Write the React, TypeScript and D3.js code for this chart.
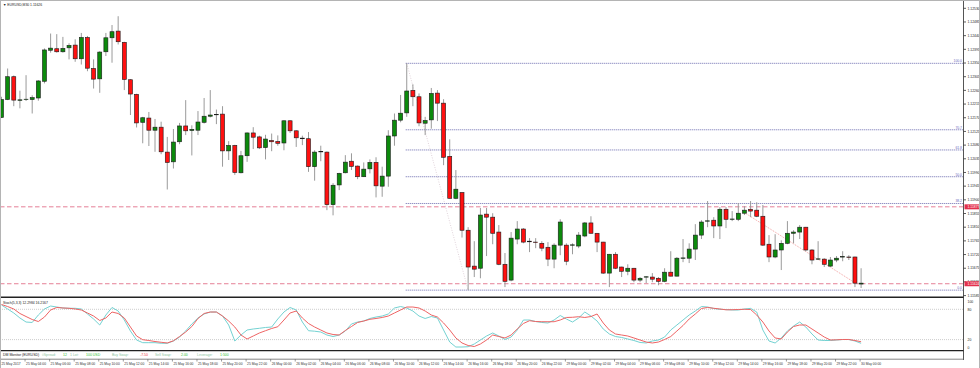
import React, { useEffect, useRef } from "react";
import * as d3 from "d3";

// EURUSD M30 candles: [open, high, low, close]
const candles: [number, number, number, number][] = [
  [1.12171, 1.12239, 1.12169, 1.1223], [1.1223, 1.12332, 1.12228, 1.12305], [1.12305, 1.12309, 1.12208, 1.12228],
  [1.12227, 1.12259, 1.12201, 1.12229], [1.1223, 1.1231, 1.12225, 1.12231], [1.1223, 1.12244, 1.12184, 1.12236],
  [1.12235, 1.12294, 1.12226, 1.12291], [1.1229, 1.12398, 1.12283, 1.12393], [1.12392, 1.12447, 1.12384, 1.12399],
  [1.12397, 1.12445, 1.12384, 1.12387], [1.12387, 1.12436, 1.12384, 1.12398], [1.124, 1.12415, 1.12362, 1.12408],
  [1.12409, 1.12428, 1.12354, 1.12364], [1.12364, 1.12449, 1.12345, 1.12434], [1.12434, 1.12439, 1.12323, 1.12333],
  [1.12332, 1.12362, 1.12266, 1.12297], [1.12298, 1.12389, 1.12252, 1.12386], [1.12387, 1.12449, 1.12373, 1.12433],
  [1.12433, 1.12475, 1.12351, 1.12453], [1.12455, 1.12504, 1.12411, 1.1242], [1.12418, 1.1242, 1.12261, 1.12296],
  [1.12295, 1.12297, 1.12179, 1.12248], [1.12247, 1.12249, 1.12138, 1.12153], [1.12155, 1.12173, 1.12086, 1.1217],
  [1.12169, 1.12189, 1.12077, 1.12129], [1.12129, 1.12166, 1.12058, 1.12139], [1.12139, 1.12157, 1.1205, 1.12058],
  [1.12057, 1.12107, 1.11934, 1.12023], [1.12025, 1.12133, 1.12003, 1.1209], [1.12091, 1.12153, 1.12083, 1.12143],
  [1.12143, 1.12228, 1.12113, 1.12127], [1.12128, 1.12145, 1.12046, 1.12132], [1.12129, 1.12192, 1.12113, 1.12156],
  [1.12155, 1.12235, 1.12151, 1.12175], [1.12175, 1.12261, 1.12171, 1.12179], [1.1218, 1.12197, 1.12149, 1.12181],
  [1.12182, 1.12208, 1.12009, 1.12061], [1.12061, 1.12093, 1.12031, 1.12079], [1.12079, 1.12081, 1.11982, 1.1199],
  [1.11989, 1.12061, 1.11987, 1.12045], [1.12045, 1.12122, 1.12025, 1.1212], [1.1212, 1.12139, 1.12067, 1.12106],
  [1.12107, 1.12111, 1.12067, 1.12071], [1.12072, 1.12114, 1.12033, 1.121], [1.12095, 1.12118, 1.1206, 1.12091],
  [1.12092, 1.12112, 1.12078, 1.12086], [1.12087, 1.12162, 1.12063, 1.1216], [1.1216, 1.12162, 1.1212, 1.12127],
  [1.12127, 1.12129, 1.12074, 1.12104], [1.12103, 1.12111, 1.1208, 1.12101], [1.12101, 1.12123, 1.11992, 1.12009],
  [1.12009, 1.12063, 1.11963, 1.12057], [1.12058, 1.12078, 1.12027, 1.12059], [1.12057, 1.12059, 1.11866, 1.11884],
  [1.11884, 1.11955, 1.11849, 1.11948], [1.11949, 1.11989, 1.11932, 1.11987], [1.11989, 1.12047, 1.11987, 1.12024],
  [1.12027, 1.12053, 1.11998, 1.1201], [1.12011, 1.12013, 1.11968, 1.11976], [1.11976, 1.12023, 1.11975, 1.12001],
  [1.12002, 1.12033, 1.11987, 1.12023], [1.12023, 1.1204, 1.11908, 1.11946], [1.11945, 1.12009, 1.1191, 1.11978],
  [1.11978, 1.12129, 1.11943, 1.1211], [1.1211, 1.12184, 1.12078, 1.12162], [1.12162, 1.12245, 1.12155, 1.12185],
  [1.12186, 1.12349, 1.12173, 1.12258], [1.1226, 1.1228, 1.12208, 1.12239], [1.12239, 1.1225, 1.12142, 1.12153],
  [1.12152, 1.12173, 1.12113, 1.12161], [1.12163, 1.12268, 1.12134, 1.1225], [1.12251, 1.12261, 1.12159, 1.12218],
  [1.12218, 1.12231, 1.12014, 1.1204], [1.12043, 1.12099, 1.11904, 1.11905], [1.11905, 1.11998, 1.11902, 1.11935],
  [1.11924, 1.11925, 1.11776, 1.118], [1.118, 1.1181, 1.11603, 1.11679], [1.11682, 1.11764, 1.11646, 1.11672],
  [1.11675, 1.11873, 1.11642, 1.1185], [1.11853, 1.11873, 1.11715, 1.11843], [1.11843, 1.11856, 1.11754, 1.1179],
  [1.11794, 1.11817, 1.11685, 1.11688], [1.11688, 1.11725, 1.11613, 1.11632], [1.11636, 1.11794, 1.11632, 1.11774],
  [1.11771, 1.1183, 1.11754, 1.11804], [1.11804, 1.11807, 1.11757, 1.11761], [1.11764, 1.11774, 1.11728, 1.11762],
  [1.11761, 1.11774, 1.11741, 1.1176], [1.11757, 1.11764, 1.11731, 1.11741], [1.11744, 1.11761, 1.11682, 1.11705],
  [1.11705, 1.11757, 1.11675, 1.11751], [1.11751, 1.11836, 1.11718, 1.11827], [1.11751, 1.11757, 1.11685, 1.11698],
  [1.11751, 1.11757, 1.11721, 1.11752], [1.11748, 1.11794, 1.11741, 1.11784], [1.11781, 1.11827, 1.11777, 1.11824],
  [1.11824, 1.11846, 1.11789, 1.1179], [1.1179, 1.11791, 1.11728, 1.11761], [1.11761, 1.11762, 1.11656, 1.11659],
  [1.11659, 1.11722, 1.11613, 1.11721], [1.11721, 1.11728, 1.11672, 1.11675], [1.11679, 1.1168, 1.11646, 1.11665],
  [1.11665, 1.11688, 1.11652, 1.11675], [1.11675, 1.11676, 1.11629, 1.11636], [1.11636, 1.11646, 1.11629, 1.11642],
  [1.11646, 1.11649, 1.11626, 1.11647], [1.11646, 1.11659, 1.11629, 1.11639], [1.11642, 1.11646, 1.11619, 1.11632],
  [1.11632, 1.11675, 1.11629, 1.11662], [1.11662, 1.11731, 1.11648, 1.11649], [1.11649, 1.11712, 1.11648, 1.11708],
  [1.11708, 1.11771, 1.11695, 1.11709], [1.11708, 1.11757, 1.11692, 1.11738], [1.11738, 1.1182, 1.11702, 1.11784],
  [1.11784, 1.11833, 1.11771, 1.11827], [1.1183, 1.11896, 1.1181, 1.11831], [1.11833, 1.11843, 1.11774, 1.11814],
  [1.11814, 1.11876, 1.11771, 1.11869], [1.11869, 1.11876, 1.11807, 1.11836], [1.11836, 1.11863, 1.1183, 1.11837],
  [1.11836, 1.11889, 1.1183, 1.11856], [1.11856, 1.11879, 1.1185, 1.11866], [1.11869, 1.11896, 1.11843, 1.11863],
  [1.11866, 1.11892, 1.11843, 1.11846], [1.11846, 1.11883, 1.11748, 1.11751], [1.11754, 1.11784, 1.11695, 1.11712],
  [1.11712, 1.11787, 1.11708, 1.11735], [1.11735, 1.11767, 1.11669, 1.11757], [1.11757, 1.1183, 1.11754, 1.1179],
  [1.1179, 1.118, 1.11757, 1.11794], [1.11794, 1.11817, 1.11771, 1.1181], [1.1181, 1.11811, 1.11731, 1.11735],
  [1.11735, 1.11738, 1.11688, 1.11702], [1.11705, 1.11764, 1.11702, 1.11706], [1.11705, 1.11708, 1.11679, 1.11688],
  [1.11682, 1.11712, 1.11679, 1.11702], [1.11702, 1.11715, 1.11695, 1.11708], [1.11712, 1.11731, 1.11698, 1.11713],
  [1.11712, 1.11718, 1.11702, 1.11711], [1.11712, 1.11713, 1.11613, 1.11626], [1.11623, 1.11675, 1.1161, 1.11626],
];

// Stochastic(5,3,3) main (%K) and signal (%D)
const stochMain = [
  88.5, 80.6, 72.7, 62.8, 54.8, 53.9, 68.7, 80.6, 86.5, 84.5, 82.6, 82, 82, 80.6, 70.7, 60.8, 48.9, 68.7, 83.6, 76.6,
  58.8, 37, 19.2, 13.9, 13.9, 13.9, 12.7, 12.7, 17.2, 25.1, 37, 50.9, 62.8, 70.7, 74.6, 74.6, 66.7, 48.9, 17.2, 29.1,
  39, 41, 42.4, 44, 44.9, 60.8, 74.6, 83.6, 78.6, 54.8, 37.6, 36.6, 35, 29.1, 26.1, 29.1, 37, 50.9, 54.8, 56.8,
  61.8, 64.7, 66.7, 70.7, 82.6, 85.5, 82.6, 76.6, 66.7, 61.8, 65.7, 62.8, 39, 15.2, 5.3, 5.3, 5.9, 11.3, 19.2, 27.1,
  33.1, 27.1, 20.2, 25.1, 39, 58.8, 58.8, 55.8, 53.9, 52.9, 58.8, 67.7, 60.8, 54.8, 62.8, 74.6, 66.7, 56.8, 41, 31.1,
  26.1, 24.2, 21.2, 18.2, 14.3, 13.3, 17.2, 19.2, 25.1, 39, 48.9, 58.8, 68.7, 76.6, 85.5, 84.5, 81.6, 80, 79.4, 78.6,
  78.6, 80.6, 81.8, 74.6, 39, 17.2, 13.3, 23.2, 37, 46.9, 54.8, 44.9, 31.1, 19.2, 18.2, 18.2, 19.2, 20.2, 20.2, 17.2,
  12.7,
];
const stochSignal = [
  89.5, 85.5, 80.6, 71.7, 65.7, 59.8, 55.8, 64.7, 78.6, 83.6, 82.6, 82, 80.6, 78.6, 72.7, 66.7, 57.8, 62.8, 74.6, 71.7,
  62.8, 44.9, 27.1, 19.8, 18.2, 16.2, 14.7, 13.3, 17.6, 26.1, 35, 45.9, 61.8, 71.7, 74.6, 74.6, 66.7, 56.8, 44.9, 29.1,
  21.2, 27.1, 33.1, 37.6, 42, 45.5, 58.8, 72.7, 76.6, 62.8, 51.9, 44.9, 39, 33.1, 30.1, 29.1, 38, 45.9, 53.9, 56.8,
  60.2, 61.8, 63.8, 66.7, 72.7, 78.6, 84.5, 84.5, 82.6, 76.6, 68.7, 64.7, 52.9, 39, 23.2, 13.3, 8.3, 6.3, 11.3, 19.2,
  29.1, 26.1, 23.2, 29.1, 41, 51.9, 57.4, 55.8, 55.4, 55.4, 55.4, 58.8, 63.8, 64.2, 65.3, 63.8, 65.7, 70.7, 52.9, 39,
  31.1, 29.1, 27.1, 23.2, 19.2, 15.2, 13.3, 15.2, 20.2, 26.1, 37, 47.9, 60.8, 70.7, 81.6, 83.6, 82, 80.6, 79, 79.2,
  79.6, 80, 79.6, 68.7, 54.8, 37, 23.2, 21.2, 35, 45.9, 48.9, 48.9, 41, 33.1, 25.1, 19.2, 19.6, 20.2, 20.2, 18.2,
  15.8,
];

// one label every 4 bars (2 hours)
const timeLabels = [
  "25 May 2017", "25 May 04:00", "25 May 06:00", "25 May 08:00", "25 May 10:00", "25 May 12:00", "25 May 14:00",
  "25 May 16:00", "25 May 18:00", "25 May 20:00", "25 May 22:00", "26 May 00:00", "26 May 02:00", "26 May 04:00",
  "26 May 06:00", "26 May 08:00", "26 May 10:00", "26 May 12:00", "26 May 14:00", "26 May 16:00", "26 May 18:00",
  "26 May 20:00", "26 May 22:00", "29 May 00:00", "29 May 02:00", "29 May 04:00", "29 May 06:00", "29 May 08:00",
  "29 May 10:00", "29 May 12:00", "29 May 14:00", "29 May 16:00", "29 May 18:00", "29 May 20:00", "29 May 22:00",
  "30 May 00:00",
];

const priceTicks = [
  1.1253, 1.12485, 1.1244, 1.12395, 1.1235, 1.12305, 1.1226, 1.12215, 1.1217, 1.12125, 1.1208, 1.12035, 1.1199,
  1.11945, 1.119, 1.11855, 1.1181, 1.11765, 1.1172, 1.11675, 1.1163, 1.11585,
];

const stochTicks = [100, 80, 20, 0];
const stochLevels = [80, 20];
const stochTitle = "Stoch(5,3,3) 12.2984 16.2167";

// fibonacci retracement from bar 66 high to bar 76 low
const fibFrom = { bar: 66, price: 1.12349 };
const fibTo = { bar: 76, price: 1.11603 };
const fibLevels = [100, 70.7, 61.8, 50, 38.2, 0];

// red dotted trend line
const trendFrom = { bar: 121, price: 1.11858 };
const trendTo = { bar: 139, price: 1.11627 };

const hLines = [1.11877, 1.11624];

const monitorParts = [
  { text: "DM Monitor (EURUSD)", color: "#222" },
  { text: "\u25CASpread:", color: "#8cc4a0" },
  { text: "12", color: "#2fc42f" },
  { text: "1 Lot:", color: "#8cc4a0" },
  { text: "100 USD", color: "#2fc42f" },
  { text: "Buy Swap:", color: "#8cc4a0" },
  { text: "-7.50", color: "#f03c3c" },
  { text: "Sell Swap:", color: "#8cc4a0" },
  { text: "2.00", color: "#2fc42f" },
  { text: "Leverage:", color: "#8cc4a0" },
  { text: "1:500", color: "#2fc42f" },
];
const monitorX = [3, 42, 63, 70, 86, 112, 140, 155, 181, 197, 220];

const W = 980;
const H = 368;
const AXIS_X = 963.5;
const FONT = "'Liberation Sans', Arial, sans-serif";

export default function App() {
  const ref = useRef<SVGSVGElement>(null);

  useEffect(() => {
    const svg = d3.select(ref.current);
    svg.selectAll("*").remove();

    const x = d3.scaleLinear().domain([0, candles.length - 1]).range([1.5, 861.1]);
    const y = d3.scaleLinear().domain([1.11585, 1.1253]).range([295.6, 8.3]);
    const ys = d3.scaleLinear().domain([0, 100]).range([349.7, 299.2]);

    svg.append("rect").attr("width", W).attr("height", H).attr("fill", "#fff");

    const main = svg.append("g");
    const clip = svg.append("clipPath").attr("id", "mainclip");
    clip.append("rect").attr("x", 0).attr("y", 1).attr("width", AXIS_X).attr("height", 296);
    main.attr("clip-path", "url(#mainclip)");

    // horizontal red dashed lines
    main.selectAll(".hline")
      .data(hLines)
      .enter()
      .append("line")
      .attr("x1", 0)
      .attr("x2", AXIS_X)
      .attr("y1", (d) => y(d))
      .attr("y2", (d) => y(d))
      .attr("stroke", "#e2708a")
      .attr("stroke-width", 0.9)
      .attr("stroke-dasharray", "4.5,2.5");

    // fibonacci
    const fibPrice = (lv: number) => fibTo.price + ((fibFrom.price - fibTo.price) * lv) / 100;
    main.append("line")
      .attr("x1", x(fibFrom.bar))
      .attr("y1", y(fibFrom.price))
      .attr("x2", x(fibTo.bar))
      .attr("y2", y(fibTo.price))
      .attr("stroke", "#d8c8d0")
      .attr("stroke-width", 0.8)
      .attr("stroke-dasharray", "1,1.5");
    main.selectAll(".fib")
      .data(fibLevels)
      .enter()
      .append("line")
      .attr("x1", x(fibFrom.bar) - 1)
      .attr("x2", AXIS_X)
      .attr("y1", (d) => y(fibPrice(d)))
      .attr("y2", (d) => y(fibPrice(d)))
      .attr("stroke", "#5a5aa6")
      .attr("stroke-width", 0.9)
      .attr("stroke-dasharray", "1,1");
    main.selectAll(".fibtxt")
      .data(fibLevels)
      .enter()
      .append("text")
      .attr("x", AXIS_X - 1.5)
      .attr("y", (d) => y(fibPrice(d)) - 1)
      .attr("text-anchor", "end")
      .attr("font-family", FONT)
      .attr("font-size", 3.4)
      .attr("fill", "#6a6ac0")
      .text((d) => d.toFixed(1));

    main.append("line")
      .attr("x1", x(trendFrom.bar))
      .attr("y1", y(trendFrom.price))
      .attr("x2", x(trendTo.bar))
      .attr("y2", y(trendTo.price))
      .attr("stroke", "#ef8a8a")
      .attr("stroke-width", 0.8)
      .attr("stroke-dasharray", "1,1");

    // candles
    const bars = main.selectAll(".bar").data(candles).enter().append("g");
    bars.append("line")
      .attr("x1", (d, i) => x(i))
      .attr("x2", (d, i) => x(i))
      .attr("y1", (d) => y(d[1]))
      .attr("y2", (d) => y(d[2]))
      .attr("stroke", "#9a9a9a")
      .attr("stroke-width", 1);
    bars.append("rect")
      .attr("x", (d, i) => x(i) - 2)
      .attr("width", 4)
      .attr("y", (d) => y(Math.max(d[0], d[3])))
      .attr("height", (d) => Math.max(0.4, Math.abs(y(d[0]) - y(d[3]))))
      .attr("fill", (d) => (d[3] >= d[0] ? "#0c8a0c" : "#ff1010"))
      .attr("stroke", "#1a1a1a")
      .attr("stroke-width", 0.6);

    // price axis
    svg.append("line")
      .attr("x1", AXIS_X).attr("x2", AXIS_X).attr("y1", 0).attr("y2", 360)
      .attr("stroke", "#555").attr("stroke-width", 1);
    const pa = svg.append("g");
    pa.selectAll("line")
      .data(priceTicks)
      .enter()
      .append("line")
      .attr("x1", AXIS_X)
      .attr("x2", AXIS_X + 2.5)
      .attr("y1", (d) => y(d))
      .attr("y2", (d) => y(d))
      .attr("stroke", "#333")
      .attr("stroke-width", 0.8);
    pa.selectAll("text")
      .data(priceTicks)
      .enter()
      .append("text")
      .attr("x", AXIS_X + 4)
      .attr("y", (d) => y(d) + 1.2)
      .attr("font-family", FONT)
      .attr("font-size", 3.4)
      .attr("fill", "#222")
      .text((d) => d.toFixed(5));

    const hl = svg.append("g");
    hl.selectAll("rect")
      .data(hLines)
      .enter()
      .append("rect")
      .attr("x", AXIS_X + 1)
      .attr("y", (d) => y(d) - 2.5)
      .attr("width", 15)
      .attr("height", 5)
      .attr("fill", "#e3304c");
    hl.selectAll("text")
      .data(hLines)
      .enter()
      .append("text")
      .attr("x", AXIS_X + 4)
      .attr("y", (d) => y(d) + 1.2)
      .attr("font-family", FONT)
      .attr("font-size", 3.4)
      .attr("fill", "#fff")
      .text((d) => d.toFixed(5));

    // stochastic panel
    const st = svg.append("g");
    st.selectAll(".lvl")
      .data(stochLevels)
      .enter()
      .append("line")
      .attr("x1", 0)
      .attr("x2", AXIS_X)
      .attr("y1", (d) => ys(d))
      .attr("y2", (d) => ys(d))
      .attr("stroke", "#b8b8b8")
      .attr("stroke-width", 0.7)
      .attr("stroke-dasharray", "1,1");
    const line = d3.line<number>().x((d, i) => x(i)).y((d) => ys(d));
    st.append("path")
      .attr("d", line(stochMain))
      .attr("fill", "none")
      .attr("stroke", "#74d2d2")
      .attr("stroke-width", 1);
    st.append("path")
      .attr("d", line(stochSignal))
      .attr("fill", "none")
      .attr("stroke", "#ee6464")
      .attr("stroke-width", 1);
    st.selectAll(".stt")
      .data(stochTicks)
      .enter()
      .append("text")
      .attr("x", AXIS_X + 4)
      .attr("y", (d) => Math.min(348.5, Math.max(303, ys(d) + 1.2)))
      .attr("font-family", FONT)
      .attr("font-size", 3.4)
      .attr("fill", "#222")
      .text((d) => String(d));
    st.append("text")
      .attr("x", 3)
      .attr("y", 303.5)
      .attr("font-family", FONT)
      .attr("font-size", 3.4)
      .attr("fill", "#222")
      .text(stochTitle);

    // panel borders
    svg.append("line").attr("x1", 0).attr("x2", AXIS_X).attr("y1", 297.3).attr("y2", 297.3)
      .attr("stroke", "#222").attr("stroke-width", 1.4);
    svg.append("line").attr("x1", 0).attr("x2", AXIS_X).attr("y1", 350.7).attr("y2", 350.7)
      .attr("stroke", "#222").attr("stroke-width", 1.2);
    svg.append("line").attr("x1", 0).attr("x2", AXIS_X).attr("y1", 359.2).attr("y2", 359.2)
      .attr("stroke", "#666").attr("stroke-width", 0.8);

    // DM monitor row
    svg.append("g")
      .selectAll("text")
      .data(monitorParts)
      .enter()
      .append("text")
      .attr("x", (d, i) => monitorX[i])
      .attr("y", 356)
      .attr("font-family", FONT)
      .attr("font-size", 3.5)
      .attr("fill", (d) => d.color)
      .text((d) => d.text);

    // time axis
    const ta = svg.append("g");
    ta.selectAll("line")
      .data(timeLabels)
      .enter()
      .append("line")
      .attr("x1", (d, i) => x(i * 4) - 1)
      .attr("x2", (d, i) => x(i * 4) - 1)
      .attr("y1", 359.2)
      .attr("y2", 361.5)
      .attr("stroke", "#555")
      .attr("stroke-width", 0.6);
    ta.selectAll("text")
      .data(timeLabels)
      .enter()
      .append("text")
      .attr("x", (d, i) => x(i * 4))
      .attr("y", 364.5)
      .attr("font-family", FONT)
      .attr("font-size", 3.3)
      .attr("fill", "#333")
      .text((d) => d);

    // title + window frame
    svg.append("text")
      .attr("x", 3)
      .attr("y", 6)
      .attr("font-family", FONT)
      .attr("font-size", 3.4)
      .attr("fill", "#222")
      .text("\u25BC EURUSD,M30 1.11626");
    svg.append("rect")
      .attr("x", 0.5).attr("y", 0.5).attr("width", W - 1).attr("height", H)
      .attr("fill", "none").attr("stroke", "#b4b4b4").attr("stroke-width", 1);
  }, []);

  return (
    <div style={{ position: "absolute", left: 0, top: 0 }}>
      <svg ref={ref} width={W} height={H} style={{ display: "block" }} />
    </div>
  );
}
